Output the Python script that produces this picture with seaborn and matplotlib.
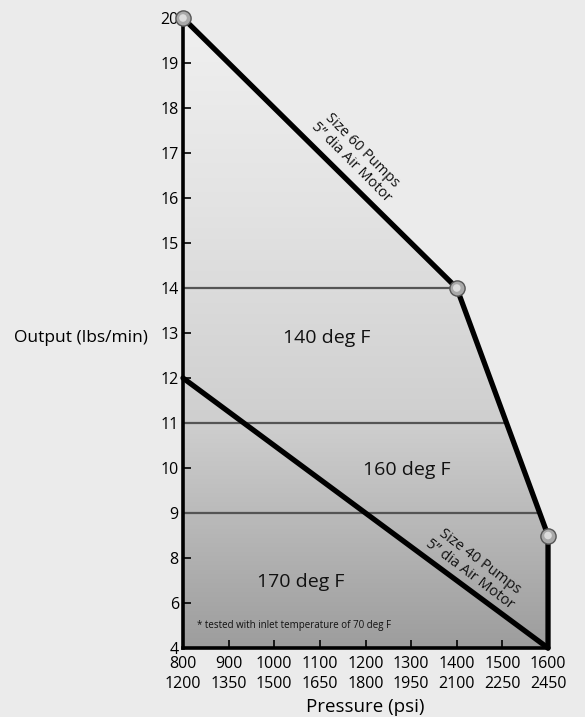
import numpy as np
import matplotlib
matplotlib.use("Agg")
import matplotlib.pyplot as plt
import seaborn as sns
from matplotlib.colors import LinearSegmentedColormap
from matplotlib.patches import Polygon

sns.set_theme(style="white")
plt.rcParams['font.family'] = ['Open Sans', 'DejaVu Sans']

# -----------------------------
# data
# -----------------------------
pressure_ticks = [800, 900, 1000, 1100, 1200, 1300, 1400, 1500, 1600]
pressure_row2 = [1200, 1350, 1500, 1650, 1800, 1950, 2100, 2250, 2450]
output_ticks = [4, 6, 8, 9, 10, 11, 12, 13, 14, 15, 16, 17, 18, 19, 20]

size60_x = [800, 1400, 1600, 1600]
size60_y = [20, 14, 8.5, 4]
size40_x = [800, 1600]
size40_y = [12, 4]
marker_x = [800, 1400, 1600]
marker_y = [20, 14, 8.5]

temp_lines = [14, 11, 9]
zone_labels = ["140 deg F", "160 deg F", "170 deg F"]
zone_x = [1116, 1291, 1057]
zone_y = [12.9, 9.96, 6.93]


# y axis is uneven: 4-6-8 take one step each, then 8..20 one step per unit
def fwd(v):
    return np.interp(v, [-100, 4, 8, 20, 100], [-52, 0, 2, 14, 94])


def inv(p):
    return np.interp(p, [-52, 0, 2, 14, 94], [-100, 4, 8, 20, 100])


fig = plt.figure(figsize=(5.85, 7.17), dpi=100)
fig.patch.set_facecolor('#ebebeb')
ax = fig.add_axes([0.3128, 0.0962, 0.624, 0.8787])
ax.set_facecolor('none')
ax.set_yscale('function', functions=(fwd, inv))

# shaded region under the size 60 curve
poly = Polygon(np.column_stack([size60_x + [800], size60_y + [4]]),
               closed=True, transform=ax.transData)
cmap = LinearSegmentedColormap.from_list(
    "shade", [(0, '#f0f0f0'), (0.3, '#e3e3e3'), (0.64, '#cfcfcf'), (1, '#9d9d9d')])
grad = np.linspace(0, 1, 256).reshape(-1, 1)
im = ax.imshow(grad, extent=[0, 1, 0, 1], origin='upper', transform=ax.transAxes,
               cmap=cmap, aspect='auto', zorder=0, interpolation='bilinear')
im.set_clip_path(poly)

hl = ax.hlines(temp_lines, 800, 1600, colors='#555555', lw=1.6, zorder=2)
hl.set_clip_path(poly)

sns.lineplot(x=size60_x, y=size60_y, sort=False, estimator=None, color='black',
             lw=3.8, ax=ax, zorder=3, clip_on=False)
sns.lineplot(x=size40_x, y=size40_y, sort=False, estimator=None, color='black',
             lw=3.8, ax=ax, zorder=3, clip_on=False)
sns.scatterplot(x=marker_x, y=marker_y, s=120, color='#a9a9a9', edgecolor='#555555',
                linewidth=1, ax=ax, zorder=5, clip_on=False)
sns.scatterplot(x=marker_x, y=marker_y, s=30, color='#dcdcdc', edgecolor='none',
                ax=ax, zorder=6, clip_on=False)

ax.set_xlim(800, 1600)
ax.set_ylim(4, 20)

for s in ['top', 'right']:
    ax.spines[s].set_visible(False)
for s in ['left', 'bottom']:
    ax.spines[s].set_linewidth(2.6)
    ax.spines[s].set_color('black')
    ax.spines[s].set_zorder(4)

ax.set_xticks(pressure_ticks)
ax.set_xticklabels([f"{a}\n{b}" for a, b in zip(pressure_ticks, pressure_row2)],
                   linespacing=1.3)
ax.set_yticks(output_ticks)
ax.set_yticklabels([str(t) for t in output_ticks])
ax.yaxis.set_minor_locator(matplotlib.ticker.NullLocator())
ax.tick_params(direction='in', length=6, width=1.2, colors='black',
               labelsize=11.5, left=True, bottom=True)
ax.tick_params(axis='y', pad=3)
ax.tick_params(axis='x', pad=6)

ax.set_ylabel("Output (lbs/min)", rotation=0, ha='right', va='center',
              fontsize=12.5, color='black')
ax.yaxis.set_label_coords(-0.095, 0.492)
fig.text((183 + 182) / 585, 0.014, "Pressure (psi)", ha='center', va='center',
         fontsize=13.5, color='black')

for lab, x, y in zip(zone_labels, zone_x, zone_y):
    ax.text(x, y, lab, ha='center', va='center', fontsize=14, color='#111111', zorder=6)

ax.text(830, 4.98, "* tested with inlet temperature of 70 deg F", ha='left',
        va='center', fontsize=7, color='#111111', zorder=6)

ax.text(1181, 16.93, "Size 60 Pumps\n5\u201d dia Air Motor", ha='center', va='center',
        rotation=-45, rotation_mode='anchor', fontsize=10.5, linespacing=1.1,
        color='#111111', zorder=6)
ax.text(1440, 7.56, "Size 40 Pumps\n5\u201d dia Air Motor", ha='center', va='center',
        rotation=-37, rotation_mode='anchor', fontsize=10.5, linespacing=1.1,
        color='#111111', zorder=6)

fig.savefig("out.png", dpi=100, facecolor=fig.get_facecolor())
